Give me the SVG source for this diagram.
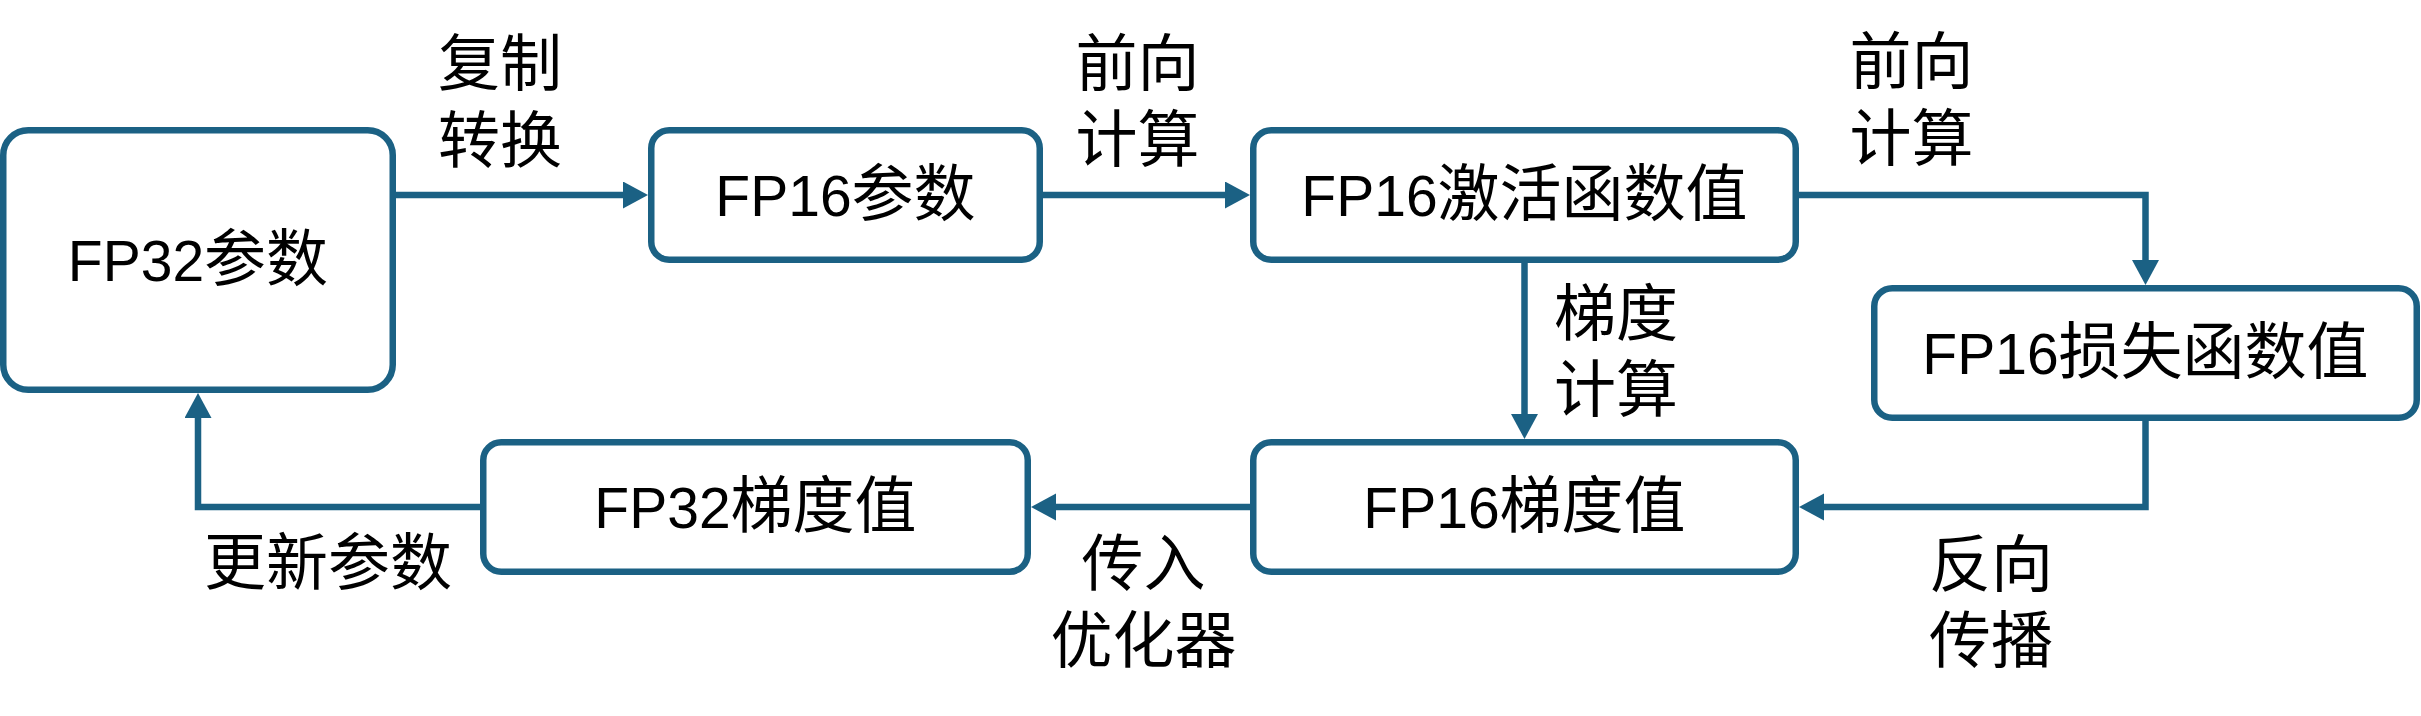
<svg xmlns="http://www.w3.org/2000/svg" width="2421" height="716" viewBox="0 0 2421 716">
<style>
.box{fill:#ffffff;stroke:#1b6184;stroke-width:6.5}
.conn{fill:none;stroke:#1b6184;stroke-width:6.5;stroke-linejoin:miter}
.t{font-family:"Liberation Sans","Noto Sans CJK SC",sans-serif;font-size:62px;fill:#000;text-anchor:middle}
.lat{font-size:57px}
</style>
<defs>
<marker id="arr" markerUnits="userSpaceOnUse" markerWidth="26" markerHeight="28" refX="5" refY="13.5" orient="auto">
<path d="M0,0 L25,13.5 L0,27 Z" fill="#1b6184"/>
</marker>
</defs>
<rect width="2421" height="716" fill="#ffffff"/>
<g id="connectors">
<path class="conn" d="M396,195 H628" marker-end="url(#arr)"/>
<path class="conn" d="M1043,195 H1230" marker-end="url(#arr)"/>
<path class="conn" d="M1799,195 H2145.5 V265" marker-end="url(#arr)"/>
<path class="conn" d="M1524.5,263 V419" marker-end="url(#arr)"/>
<path class="conn" d="M2145.5,421 V507 H1819" marker-end="url(#arr)"/>
<path class="conn" d="M1250,507 H1051" marker-end="url(#arr)"/>
<path class="conn" d="M480,507 H198 V413" marker-end="url(#arr)"/>
</g>
<g id="labels">
<text class="t" x="500" y="86">复制</text>
<text class="t" x="500" y="162.5">转换</text>
<text class="t" x="1137.5" y="85.5">前向</text>
<text class="t" x="1137.5" y="161.5">计算</text>
<text class="t" x="1911.5" y="84">前向</text>
<text class="t" x="1911.5" y="160.5">计算</text>
<text class="t" x="1616" y="336">梯度</text>
<text class="t" x="1616" y="411.5">计算</text>
<text class="t" x="1991" y="587">反向</text>
<text class="t" x="1991" y="662.5">传播</text>
<text class="t" x="1143.5" y="586">传入</text>
<text class="t" x="1143.5" y="662.5">优化器</text>
<text class="t" x="328" y="585">更新参数</text>
</g>
<g id="fp32_param">
<rect class="box" x="3.25" y="130.25" width="389.5" height="259.5" rx="25"/>
<text class="t" x="198" y="281"><tspan class="lat">FP32</tspan>参数</text>
</g>
<g id="fp16_param">
<rect class="box" x="651.25" y="130.25" width="388.5" height="129.5" rx="18"/>
<text class="t" x="845.5" y="216"><tspan class="lat">FP16</tspan>参数</text>
</g>
<g id="fp16_act">
<rect class="box" x="1253.25" y="130.25" width="542.5" height="129.5" rx="18"/>
<text class="t" x="1524.5" y="216"><tspan class="lat">FP16</tspan>激活函数值</text>
</g>
<g id="fp16_loss">
<rect class="box" x="1874.25" y="288.25" width="542.5" height="129.5" rx="18"/>
<text class="t" x="2145.5" y="373.5"><tspan class="lat">FP16</tspan>损失函数值</text>
</g>
<g id="fp16_grad">
<rect class="box" x="1253.25" y="442.25" width="542.5" height="129.5" rx="18"/>
<text class="t" x="1524.5" y="528"><tspan class="lat">FP16</tspan>梯度值</text>
</g>
<g id="fp32_grad">
<rect class="box" x="483.25" y="442.25" width="544.5" height="129.5" rx="18"/>
<text class="t" x="755.5" y="528"><tspan class="lat">FP32</tspan>梯度值</text>
</g>
</svg>
